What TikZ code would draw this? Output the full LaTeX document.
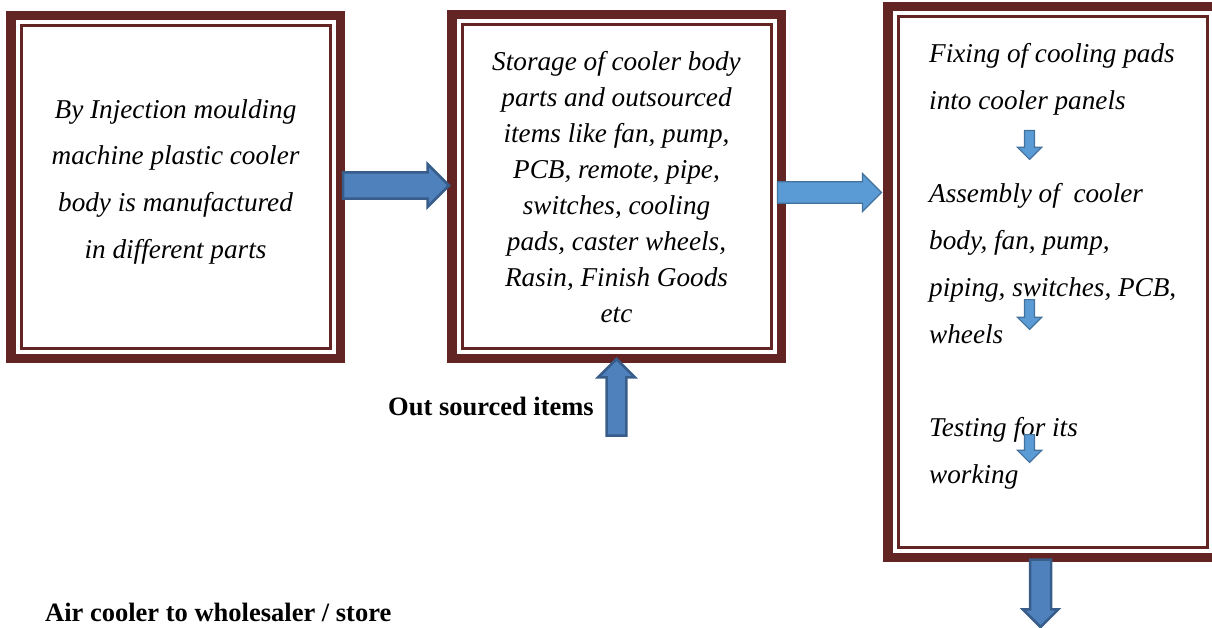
\documentclass[tikz,border=0pt]{standalone}
\usepackage{fontspec}
\setmainfont{Liberation Serif}
\usepackage{tikz}
\usetikzlibrary{shapes.arrows}
\definecolor{framecolor}{HTML}{632523}
\definecolor{arrowfill}{HTML}{4F81BD}
\definecolor{arrowline}{HTML}{385D8A}
\definecolor{smallfill}{HTML}{5B9BD5}
\definecolor{smallline}{HTML}{41719C}

\begin{document}
\begin{tikzpicture}[x=1pt,y=-1pt,
  frame/.style={draw=framecolor, line width=9.5pt, minimum width=329.5pt, inner sep=0pt, outer sep=0pt,
    path picture={\draw[framecolor,line width=3pt] ([shift={(10.25pt,-10.25pt)}]path picture bounding box.north west) rectangle ([shift={(-10.25pt,10.25pt)}]path picture bounding box.south east);}},
  txt/.style={inner sep=0pt, font=\fontsize{27.2}{30}\selectfont\itshape},
  lbl/.style={inner sep=0pt, anchor=base west, font=\fontsize{26.5}{30}\selectfont\bfseries},
  barrow/.style={single arrow, draw=arrowline, fill=arrowfill, line width=2.5pt, inner xsep=0pt, outer sep=0pt, anchor=tip},
  sarrow/.style={barrow, draw=smallline, fill=smallfill, line width=1.2pt}]
\useasboundingbox (0,0) rectangle (1212,628);

% the three frames
\node[frame, minimum height=342.5pt] (box1) at (175.5,187) {};
\node[frame, minimum height=343.5pt] (box2) at (616.5,186.5) {};
\node[frame, minimum height=550.5pt] (box3) at (1052.5,282) {};

% text of the frames
\foreach \t [count=\i from 0] in {By Injection moulding, machine plastic cooler, body is manufactured, in different parts}
  \node[txt, anchor=base] (make\i) at (175.5,118.3+46.67*\i) {\t};
\foreach \t [count=\i from 0] in {Storage of cooler body, parts and outsourced, {items like fan, pump,}, {PCB, remote, pipe,}, {switches, cooling}, {pads, caster wheels,}, {Rasin, Finish Goods}, etc}
  \node[txt, anchor=base] (store\i) at (616.5,70.7+35.9*\i) {\t};
\foreach \k/\t in {0/Fixing of cooling pads, 1/into cooler panels, 3/{Assembly of\ \ cooler}, 4/{body, fan, pump,}, 5/{piping, switches, PCB,}, 6/wheels, 8/Testing for its, 9/working}
  \node[txt, anchor=base west] (work\k) at (929,62.3+46.8*\k) {\t};

% labels
\node[lbl] (outsrc) at (388,415) {Out sourced items};
\node[lbl] (sale) at (45,621) {Air cooler to wholesaler / store};

% block arrows
\node[barrow, minimum height=106pt, minimum width=43pt, inner ysep=9.75pt] (feed) at (449,185.5) {};
\node[sarrow, minimum height=104pt, minimum width=37.8pt, inner ysep=8.9pt] (pass) at (881.4,192.5) {};
\node[barrow, rotate=90, minimum height=76.5pt, minimum width=36.5pt, inner ysep=7.25pt] (supply) at (616.5,359) {};
\node[barrow, rotate=-90, minimum height=67.5pt, minimum width=33.5pt, inner ysep=9.25pt] (dispatch) at (1040.5,627) {};
\foreach \y/\l in {159.4/28.8, 329.4/29.8, 462.4/27.8}
  \node[sarrow, rotate=-90, minimum height=\l pt, minimum width=20.8pt, inner ysep=4.4pt] at (1029.5,\y) {};
\end{tikzpicture}
\end{document}
